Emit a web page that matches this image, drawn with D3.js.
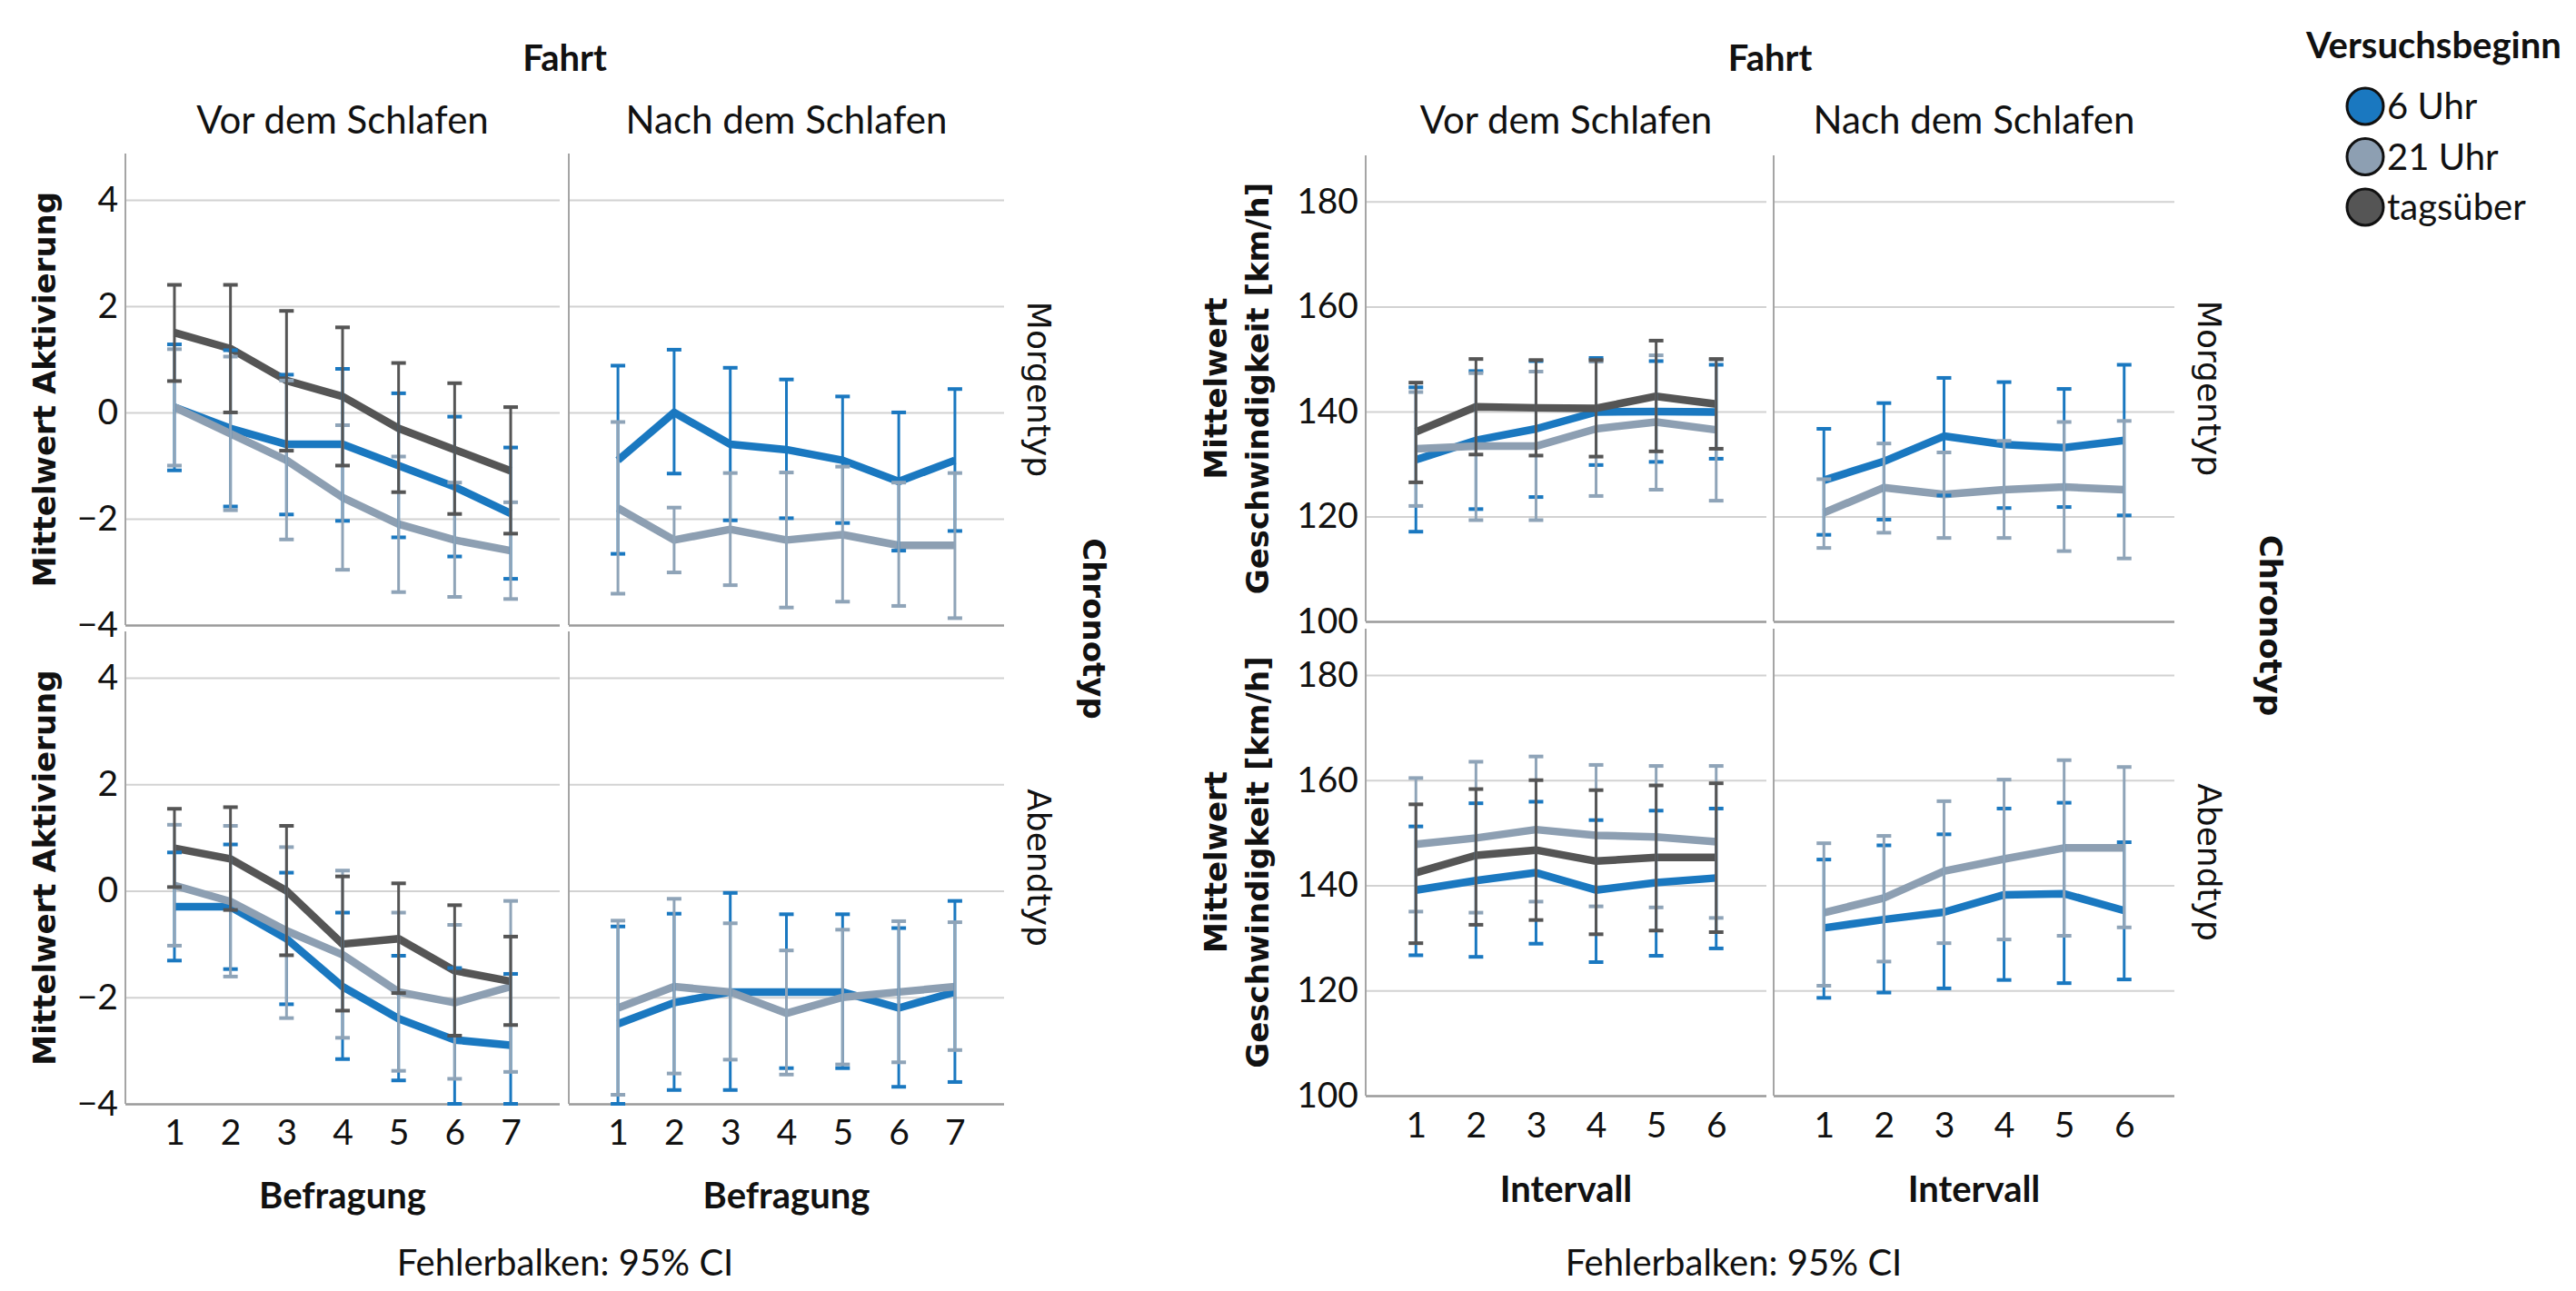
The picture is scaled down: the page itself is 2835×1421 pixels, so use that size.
<!DOCTYPE html>
<html>
<head>
<meta charset="utf-8">
<script src="https://cdn.jsdelivr.net/npm/d3@7/dist/d3.min.js"></script>
<style>
  body { margin: 0; background: #fff; }
  text { font-family: Lato, "Open Sans", sans-serif; fill: #111; }
</style>
</head>
<body>
<script>
// categories
const series = ["6 Uhr", "21 Uhr", "tagsüber"];
const fahrt = ["Vor dem Schlafen", "Nach dem Schlafen"];
const chronotyp = ["Morgentyp", "Abendtyp"];
const befragung = [1, 2, 3, 4, 5, 6, 7];
const intervall = [1, 2, 3, 4, 5, 6];
const aktTicks = [-4, -2, 0, 2, 4];
const speedTicks = [100, 120, 140, 160, 180];

// Aktivierung, rows = 6 Uhr, 21 Uhr, tagsüber
const aktMorgenVorMean = [
  [0.1, -0.3, -0.6, -0.6, -1.0, -1.4, -1.9],
  [0.1, -0.4, -0.9, -1.6, -2.1, -2.4, -2.6],
  [1.5, 1.2, 0.6, 0.3, -0.3, -0.7, -1.1]];
const aktMorgenVorLo = [
  [-1.09, -1.77, -1.92, -2.04, -2.35, -2.71, -3.13],
  [-1.0, -1.84, -2.39, -2.96, -3.38, -3.47, -3.51],
  [0.59, 0.0, -0.72, -1.0, -1.5, -1.91, -2.28]];
const aktMorgenVorHi = [
  [1.28, 1.17, 0.71, 0.82, 0.36, -0.08, -0.66],
  [1.19, 1.05, 0.6, -0.24, -0.83, -1.32, -1.69],
  [2.4, 2.4, 1.91, 1.6, 0.93, 0.55, 0.1]];

const aktMorgenNachMean = [
  [-0.9, 0.0, -0.6, -0.7, -0.9, -1.3, -0.9],
  [-1.8, -2.4, -2.2, -2.4, -2.3, -2.5, -2.5]];
const aktMorgenNachLo = [
  [-2.66, -1.15, -2.03, -1.99, -2.08, -2.6, -2.23],
  [-3.41, -3.01, -3.25, -3.67, -3.56, -3.64, -3.87]];
const aktMorgenNachHi = [
  [0.88, 1.18, 0.84, 0.62, 0.3, 0.0, 0.44],
  [-0.18, -1.79, -1.14, -1.13, -1.02, -1.32, -1.14]];

const aktAbendVorMean = [
  [-0.3, -0.3, -0.9, -1.8, -2.4, -2.8, -2.9],
  [0.1, -0.2, -0.75, -1.2, -1.9, -2.1, -1.8],
  [0.8, 0.6, 0.0, -1.0, -0.9, -1.5, -1.7]];
const aktAbendVorLo = [
  [-1.31, -1.47, -2.13, -3.16, -3.56, -4.0, -4.0],
  [-1.03, -1.61, -2.39, -2.76, -3.38, -3.53, -3.4],
  [0.07, -0.36, -1.21, -2.25, -1.92, -2.72, -2.52]];
const aktAbendVorHi = [
  [0.72, 0.87, 0.34, -0.41, -1.22, -1.45, -1.56],
  [1.24, 1.22, 0.82, 0.38, -0.41, -0.64, -0.19],
  [1.54, 1.57, 1.22, 0.27, 0.14, -0.27, -0.86]];

const aktAbendNachMean = [
  [-2.5, -2.1, -1.9, -1.9, -1.9, -2.2, -1.9],
  [-2.2, -1.8, -1.9, -2.3, -2.0, -1.9, -1.8]];
const aktAbendNachLo = [
  [-4.0, -3.74, -3.74, -3.33, -3.33, -3.68, -3.59],
  [-3.83, -3.43, -3.17, -3.45, -3.26, -3.22, -2.99]];
const aktAbendNachHi = [
  [-0.67, -0.43, -0.04, -0.44, -0.44, -0.7, -0.19],
  [-0.56, -0.15, -0.61, -1.12, -0.73, -0.57, -0.59]];

// Geschwindigkeit [km/h]
const spdMorgenVorMean = [
  [130.8, 134.5, 136.7, 139.9, 140.0, 139.9],
  [132.9, 133.4, 133.4, 136.7, 138.0, 136.5],
  [136.1, 140.9, 140.7, 140.6, 142.9, 141.4]];
const spdMorgenVorLo = [
  [117.1, 121.4, 123.7, 129.8, 130.4, 131.0],
  [122.0, 119.3, 119.3, 123.9, 125.1, 123.0],
  [126.5, 131.8, 131.6, 131.4, 132.4, 132.9]];
const spdMorgenVorHi = [
  [144.6, 147.7, 149.6, 150.2, 149.6, 148.9],
  [143.7, 147.3, 147.6, 149.5, 150.7, 149.9],
  [145.5, 150.0, 149.8, 149.8, 153.5, 150.0]];

const spdMorgenNachMean = [
  [126.9, 130.5, 135.3, 133.7, 133.1, 134.5],
  [120.7, 125.5, 124.2, 125.1, 125.6, 125.1]];
const spdMorgenNachLo = [
  [116.5, 119.4, 124.0, 121.6, 121.8, 120.2],
  [114.0, 116.9, 115.9, 115.9, 113.4, 112.0]];
const spdMorgenNachHi = [
  [136.7, 141.6, 146.4, 145.6, 144.3, 148.9],
  [127.1, 133.9, 132.2, 134.4, 138.0, 138.2]];

const spdAbendVorMean = [
  [139.1, 140.9, 142.4, 139.1, 140.5, 141.4],
  [147.8, 149.0, 150.6, 149.5, 149.2, 148.3],
  [142.4, 145.7, 146.7, 144.6, 145.3, 145.3]];
const spdAbendVorLo = [
  [126.7, 126.4, 128.9, 125.4, 126.6, 128.0],
  [135.0, 134.8, 136.9, 136.0, 135.8, 133.8],
  [129.0, 132.5, 133.4, 130.7, 131.4, 131.1]];
const spdAbendVorHi = [
  [151.2, 155.6, 155.9, 152.4, 154.2, 154.6],
  [160.4, 163.5, 164.5, 162.9, 162.7, 162.7],
  [155.4, 158.3, 160.0, 158.1, 159.0, 159.4]];

const spdAbendNachMean = [
  [131.9, 133.5, 134.9, 138.2, 138.4, 135.2],
  [134.8, 137.6, 142.7, 145.0, 147.1, 147.1]];
const spdAbendNachLo = [
  [118.6, 119.6, 120.4, 122.0, 121.4, 122.1],
  [120.9, 125.5, 129.0, 129.7, 130.4, 132.0]];
const spdAbendNachHi = [
  [144.9, 147.6, 149.7, 154.6, 155.7, 148.2],
  [148.0, 149.4, 156.0, 160.1, 163.8, 162.5]];

const lineColor = d3.scaleOrdinal().domain(series).range(["#1a78c0", "#8d9fb2", "#555555"]);
const barColor = d3.scaleOrdinal().domain(series).range(["#1a78c0", "#8fa4b8", "#555555"]);

const svg = d3.select("body").append("svg")
    .attr("width", 2835)
    .attr("height", 1421);

svg.append("rect").attr("width", 2835).attr("height", 1421).attr("fill", "#fff");

function drawChart(cfg) {
  const g = svg.append("g");
  const panels = cfg.panels;

  cfg.rows.forEach((ry, r) => {
    cfg.cols.forEach((cx, c) => {
      const p = panels[r][c];
      const x = d3.scaleLinear().domain(cfg.xDomain).range(cx);
      const y = d3.scaleLinear().domain(cfg.yDomain).range([ry[1], ry[0]]);
      const pg = g.append("g");

      // gridlines
      const grid = pg.append("g")
          .attr("transform", `translate(${cx[0]},0)`)
          .call(d3.axisLeft(y).tickValues(cfg.ticks).tickSize(-(cx[1] - cx[0])).tickFormat(""));
      grid.select(".domain").remove();
      grid.selectAll("line")
          .attr("stroke", d => d === cfg.yDomain[0] ? "#9a9a9a" : "#d2d2d2")
          .attr("stroke-width", d => d === cfg.yDomain[0] ? 2.5 : 2);

      // left edge of panel
      pg.append("line")
          .attr("x1", cx[0]).attr("x2", cx[0])
          .attr("y1", ry[0]).attr("y2", ry[1])
          .attr("stroke", "#a5a5a5").attr("stroke-width", 2);

      if (c === 0) {
        const ya = pg.append("g")
            .attr("transform", `translate(${cx[0]},0)`)
            .call(d3.axisLeft(y).tickValues(cfg.ticks).tickSize(0).tickPadding(8));
        ya.select(".domain").remove();
        ya.selectAll("text")
            .style("font-family", "Lato, sans-serif")
            .style("font-size", "39px")
            .attr("fill", "#111");
      }
      if (r === cfg.rows.length - 1) {
        const xa = pg.append("g")
            .attr("transform", `translate(0,${ry[1]})`)
            .call(d3.axisBottom(x).tickValues(cfg.cats).tickSize(0).tickPadding(cfg.xPad).tickFormat(d3.format("d")));
        xa.select(".domain").remove();
        xa.selectAll("text")
            .style("font-family", "Lato, sans-serif")
            .style("font-size", "39px")
            .attr("fill", "#111");
      }

      const line = d3.line()
          .x((d, i) => x(cfg.cats[i]))
          .y(d => y(d));

      p.mean.forEach((m, s) => {
        const name = p.names[s];
        pg.append("path")
            .attr("d", line(m))
            .attr("fill", "none")
            .attr("stroke", lineColor(name))
            .attr("stroke-width", 8.5)
            .attr("stroke-linejoin", "round");
      });

      p.mean.forEach((m, s) => {
        const name = p.names[s];
        const eb = pg.append("g")
            .attr("stroke", barColor(name))
            .attr("stroke-width", 3);
        cfg.cats.forEach((k, i) => {
          const xx = x(k), y0 = y(p.lo[s][i]), y1 = y(p.hi[s][i]);
          eb.append("line").attr("x1", xx).attr("x2", xx).attr("y1", y0).attr("y2", y1);
          eb.append("line").attr("x1", xx - 8).attr("x2", xx + 8).attr("y1", y0).attr("y2", y0).attr("stroke-width", 4);
          eb.append("line").attr("x1", xx - 8).attr("x2", xx + 8).attr("y1", y1).attr("y2", y1).attr("stroke-width", 4);
        });
      });
    });
  });

  // headers
  const midX = (cfg.cols[0][0] + cfg.cols[1][1]) / 2;
  g.append("text")
      .attr("x", midX).attr("y", 78)
      .attr("text-anchor", "middle")
      .style("font-weight", "bold").style("font-size", "40px")
      .text("Fahrt");
  cfg.cols.forEach((cx, c) => {
    g.append("text")
        .attr("x", (cx[0] + cx[1]) / 2).attr("y", 147)
        .attr("text-anchor", "middle")
        .style("font-size", "42px")
        .text(fahrt[c]);
    g.append("text")
        .attr("x", (cx[0] + cx[1]) / 2).attr("y", cfg.xTitleY)
        .attr("text-anchor", "middle")
        .style("font-weight", "bold").style("font-size", "40px")
        .text(cfg.xTitle);
  });

  // row strips
  const right = cfg.cols[1][1];
  cfg.rows.forEach((ry, r) => {
    const cy = (ry[0] + ry[1]) / 2;
    g.append("text")
        .attr("transform", `translate(${right + 26},${cy}) rotate(90)`)
        .attr("text-anchor", "middle")
        .style("font-family", "'DejaVu Sans', sans-serif")
        .style("font-size", "36px")
        .text(chronotyp[r]);

    const t = g.append("text")
        .attr("transform", `translate(${cfg.yTitleX[cfg.yTitle.length - 1]},${cy}) rotate(-90)`)
        .attr("text-anchor", "middle")
        .style("font-family", "'DejaVu Sans', sans-serif")
        .style("font-weight", "bold")
        .style("font-size", "34px");
    cfg.yTitle.forEach((ln, i) => {
      t.append("tspan")
          .attr("x", 0)
          .attr("y", cfg.yTitleX[i] - cfg.yTitleX[cfg.yTitle.length - 1])
          .text(ln);
    });
  });

  g.append("text")
      .attr("transform", `translate(${cfg.chronoX},${(cfg.rows[0][0] + cfg.rows[1][1]) / 2}) rotate(90)`)
      .attr("text-anchor", "middle")
      .style("font-family", "'DejaVu Sans', sans-serif")
      .style("font-weight", "bold")
      .style("font-size", "34px")
      .text("Chronotyp");

  g.append("text")
      .attr("x", cfg.noteX).attr("y", 1404)
      .attr("text-anchor", "middle")
      .style("font-size", "40px")
      .text("Fehlerbalken: 95% CI");
}

drawChart({
  cols: [[138, 616], [626, 1105]],
  rows: [[169, 688], [695, 1215]],
  xDomain: [0.125, 7.875],
  yDomain: [-4, 4.87],
  ticks: aktTicks,
  cats: befragung,
  xPad: 17,
  xTitle: "Befragung",
  xTitleY: 1330,
  yTitle: ["Mittelwert Aktivierung"],
  yTitleX: [61],
  chronoX: 1192,
  noteX: 622,
  panels: [
    [{ names: series, mean: aktMorgenVorMean, lo: aktMorgenVorLo, hi: aktMorgenVorHi },
     { names: series.slice(0, 2), mean: aktMorgenNachMean, lo: aktMorgenNachLo, hi: aktMorgenNachHi }],
    [{ names: series, mean: aktAbendVorMean, lo: aktAbendVorLo, hi: aktAbendVorHi },
     { names: series.slice(0, 2), mean: aktAbendNachMean, lo: aktAbendNachLo, hi: aktAbendNachHi }]
  ]
});

drawChart({
  cols: [[1503, 1944], [1952, 2393]],
  rows: [[171, 684], [692, 1206]],
  xDomain: [0.164, 6.836],
  yDomain: [100, 188.8],
  ticks: speedTicks,
  cats: intervall,
  xPad: 18,
  xTitle: "Intervall",
  xTitleY: 1323,
  yTitle: ["Mittelwert", "Geschwindigkeit [km/h]"],
  yTitleX: [1350, 1396],
  chronoX: 2487,
  noteX: 1908,
  panels: [
    [{ names: series, mean: spdMorgenVorMean, lo: spdMorgenVorLo, hi: spdMorgenVorHi },
     { names: series.slice(0, 2), mean: spdMorgenNachMean, lo: spdMorgenNachLo, hi: spdMorgenNachHi }],
    [{ names: series, mean: spdAbendVorMean, lo: spdAbendVorLo, hi: spdAbendVorHi },
     { names: series.slice(0, 2), mean: spdAbendNachMean, lo: spdAbendNachLo, hi: spdAbendNachHi }]
  ]
});

// legend
const legend = svg.append("g");
legend.append("text")
    .attr("x", 2538).attr("y", 64)
    .style("font-weight", "bold").style("font-size", "40px")
    .text("Versuchsbeginn");
const items = legend.selectAll("g.item")
    .data(series)
  .enter().append("g")
    .attr("class", "item")
    .attr("transform", (d, i) => `translate(2603,${117 + i * 55.5})`);
items.append("circle")
    .attr("r", 20)
    .attr("fill", d => lineColor(d))
    .attr("stroke", "#111")
    .attr("stroke-width", 3);
items.append("text")
    .attr("x", 24).attr("y", 14)
    .style("font-size", "40px")
    .text(d => d);
</script>
</body>
</html>
